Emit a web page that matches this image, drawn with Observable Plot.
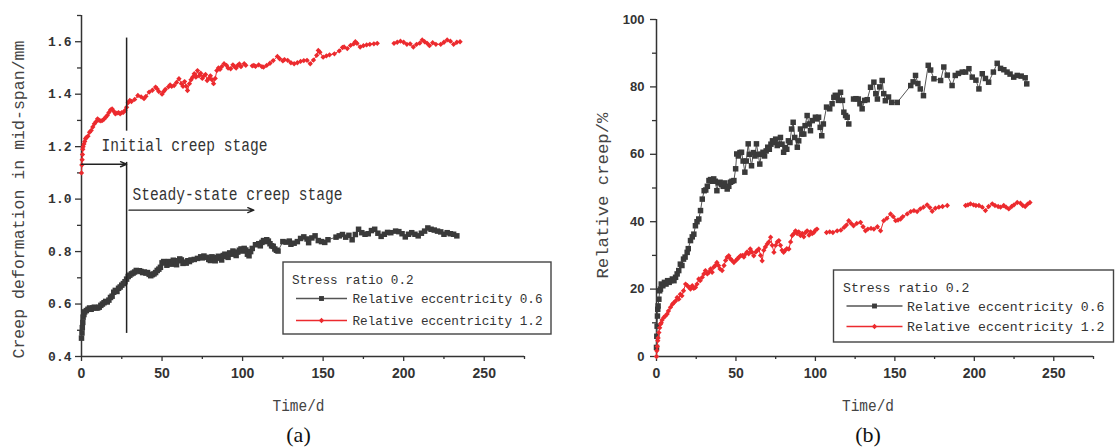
<!DOCTYPE html>
<html>
<head>
<meta charset="utf-8">
<script src="https://cdn.jsdelivr.net/npm/d3@7"></script>
<script src="https://cdn.jsdelivr.net/npm/@observablehq/plot@0.6"></script>
<style>
  html, body { margin: 0; padding: 0; background: #fff; }
  #page { position: relative; width: 1117px; height: 447px; overflow: hidden; background: #fff; }
  #page > svg { position: absolute; top: 0; }
</style>
</head>
<body>
<div id="page"></div>
<script>
// ---- Data: [time (d), value]; null marks a gap in the record ----

// (a) mid-span creep deformation (mm), relative eccentricity 0.6
const deform06 = [
  [0,0.47],[0.3,0.49],[0.5,0.51],[0.8,0.53],[1,0.55],[1.5,0.56],[2,0.57],[3,0.575],[4,0.58],[5,0.585],
  [6,0.58],[7,0.585],[8,0.588],[9,0.585],[10,0.585],[11,0.588],[12,0.595],[13,0.6],[14,0.605],[15,0.61],
  [16,0.608],[17,0.615],[18,0.625],[19,0.63],[20,0.645],[21,0.652],[22,0.648],[23,0.66],[24,0.665],[25,0.672],
  [26,0.678],[27,0.685],[28,0.695],[29,0.705],[30,0.71],[31,0.715],[32,0.718],[33,0.722],[34,0.728],[35,0.726],
  [36,0.727],[37,0.724],[38,0.72],[39,0.722],[40,0.718],[41,0.72],[42,0.713],[43,0.708],[44,0.712],[45,0.715],
  [46,0.72],[47,0.728],[48,0.733],[49,0.74],[50,0.757],[51,0.762],[52,0.758],[53,0.748],[54,0.762],[55,0.76],
  [56,0.752],[57,0.767],[58,0.76],[59,0.75],[60,0.765],[61,0.772],[62,0.768],[63,0.755],[64,0.76],[65,0.756],
  [66,0.765],[67,0.762],[68,0.768],[70,0.77],[72,0.774],[74,0.78],[75,0.776],[76,0.783],[78,0.778],[79,0.77],
  [80,0.766],[81,0.78],[82,0.772],[83,0.765],[84,0.777],[85,0.782],[86,0.775],[87,0.768],[88,0.785],[89,0.79],
  [90,0.782],[91,0.778],[92,0.795],[93,0.79],[94,0.802],[95,0.796],[96,0.785],[97,0.798],[98,0.805],[99,0.81],
  [100,0.802],[101,0.812],[102,0.806],[103,0.79],[104,0.784],[105,0.8],[106,0.812],[108,0.826],[110,0.83],[111,0.822],
  [112,0.835],[113,0.842],[114,0.838],[115,0.845],[116,0.84],[117,0.83],[118,0.822],[119,0.82],[120,0.81],[121,0.805],
  [122,0.802],[125,0.838],[127,0.836],[129,0.84],[130,0.828],[132,0.832],[134,0.838],[136,0.85],[138,0.856],[140,0.848],
  [141,0.834],[143,0.852],[145,0.86],[147,0.842],[149,0.838],[151,0.835],[153,0.845],[158,0.855],[160,0.86],[162,0.865],
  [164,0.855],[166,0.862],[168,0.845],[170,0.865],[172,0.885],[174,0.872],[176,0.866],[178,0.868],[180,0.88],[182,0.885],
  [184,0.87],[186,0.858],[188,0.866],[190,0.873],[192,0.872],[195,0.878],[197,0.876],[199,0.868],[201,0.856],[203,0.866],
  [205,0.872],[207,0.866],[209,0.86],[211,0.87],[213,0.878],[215,0.89],[217,0.885],[219,0.882],[221,0.878],[223,0.875],
  [225,0.866],[227,0.872],[229,0.868],[231,0.866],[233,0.86]
];

// (a) mid-span creep deformation (mm), relative eccentricity 1.2
const deform12 = [
  [0,1.10],[0.2,1.13],[0.4,1.15],[0.6,1.17],[0.8,1.19],[1,1.2],[1.5,1.21],[2,1.22],[2.5,1.23],[3,1.235],
  [4,1.24],[5,1.255],[6,1.262],[7,1.275],[8,1.287],[9,1.295],[10,1.306],[11,1.3],[12,1.298],[13,1.3],
  [14,1.305],[15,1.312],[16,1.319],[17,1.33],[18,1.34],[19,1.344],[20,1.335],[21,1.325],[22,1.328],[23,1.33],
  [24,1.325],[25,1.33],[26,1.331],[27,1.338],[28,1.35],[29,1.368],[30,1.376],[31,1.372],[33,1.38],[35,1.395],
  [37,1.39],[38.8,1.383],[40,1.392],[42,1.408],[44,1.415],[46,1.427],[47,1.42],[48,1.41],[50,1.40],[51,1.41],
  [52,1.418],[54,1.428],[55,1.435],[56,1.43],[57.5,1.433],[59,1.445],[60.5,1.459],[62,1.44],[63,1.43],[64,1.448],
  [65,1.43],[65.8,1.414],[67,1.44],[68,1.455],[69,1.465],[70,1.478],[71,1.465],[72,1.49],[73,1.47],[74,1.48],
  [75,1.46],[76,1.47],[77,1.475],[78,1.452],[79,1.46],[80,1.47],[81,1.455],[82,1.44],[83,1.46],[84,1.49],
  [85,1.5],[86,1.495],[87,1.505],[88.5,1.516],[90,1.51],[91,1.5],[92.6,1.497],[94,1.512],[95,1.505],[96,1.5],
  [97,1.51],[98,1.515],[99,1.505],[101,1.516],[102,1.51],[104,null],[106,1.508],[107,1.51],[108,1.506],[110,1.512],
  [112,1.505],[113,1.503],[115,1.51],[117,1.518],[119,1.528],[121.6,1.544],[123,1.535],[125,1.527],[126,1.532],[128,1.529],
  [130,1.52],[132,1.516],[134,1.52],[136,1.525],[138,1.528],[140,1.529],[142,1.516],[144,1.53],[146,1.548],[147,1.567],
  [148,1.56],[150,1.541],[152,1.546],[154,1.55],[157,1.554],[160,1.565],[162,1.578],[163,1.58],[165,1.574],[167,1.586],
  [169,1.592],[170,1.60],[171,1.594],[173,1.58],[175,1.585],[177,1.588],[179,1.59],[181.5,1.592],[183.6,1.594],[188,null],
  [194,1.594],[196,1.598],[198,1.602],[200,1.598],[202,1.59],[204,1.592],[206,1.58],[208,1.59],[210,1.595],[211.5,1.607],
  [213,1.6],[214.6,1.594],[216,1.585],[218,1.596],[220,1.59],[223,1.59],[225,1.598],[227,1.607],[229,1.602],[231,1.59],
  [233,1.598],[235,1.6]
];

// (b) relative creep (%), relative eccentricity 0.6
const relCreep06 = [
  [0,2.7],[0.2,6],[0.4,9],[0.6,12],[0.8,14],[1,15],[1.5,17],[2,19.5],[2.5,20],[3,21.5],
  [4,21],[5,22],[6,21.5],[7,22.5],[8,22],[9,22.5],[10,23],[11,22.5],[12,23.5],[13,24.5],
  [14,25.5],[15,27.4],[16,27],[17,28.9],[18,29.5],[19.3,30.9],[20,32],[21.4,34.4],[22.5,35.5],[23.5,36.3],
  [24.5,38.8],[25.5,40],[26.6,40.8],[27.7,43.3],[28.8,46.7],[30,49.2],[31,49.4],[32,50.5],[33,52.2],[34,52.5],
  [35,52],[36,52.7],[37,52],[38,49.2],[39,51.5],[40,51.7],[41,51],[42,50.5],[43,51.5],[44.5,49.7],
  [45.5,50.5],[46.6,51.7],[47.5,52],[48.7,52.2],[49.8,55.7],[50.5,60.1],[51.5,59.5],[52.5,60.5],[53.5,60.6],[54.5,58],
  [55.6,54.7],[56.5,58],[57.7,63.1],[58.5,60],[59.8,56.6],[61,60.5],[62,59.5],[62.9,63.1],[64,60],[65,57.1],
  [66,60],[67,60.6],[68,59.5],[69,61],[70,62.1],[71,61.5],[72,63],[73,64],[74,63.5],[75,64.5],
  [76,62.6],[77,63],[78,65],[79,63],[80,60.6],[81,62],[82,61.5],[83,64],[84,63.5],[85,67.5],
  [86,69.5],[87,65],[88.6,62.1],[89.5,64],[90.6,67.5],[91.5,66],[92.7,66],[93.5,68.5],[94.8,71.5],[96,69],
  [96.9,67],[98,70],[100,71],[101,70.5],[102,71],[103,68],[104,65.5],[105,69],[107,74],[109,73.5],
  [110.5,75],[111.6,76.9],[112.5,77.5],[113.7,77.4],[114.5,76],[115.8,78.4],[117,76],[117.9,72.5],[119,71.5],[120,71],
  [121,69],[122.5,null],[124,76.4],[125.5,76.5],[127,76.4],[128,75],[129.4,73.5],[131,76],[132.6,76.2],[134.7,79.9],
  [136.8,81.4],[138,78],[139,76.4],[140.5,80],[142,81.9],[143,78],[144,75.9],[146,77],[148,75.4],[151.5,75.4],
  [160,80.4],[161.5,81.5],[163,83.4],[164.5,81],[166,79.4],[168,77.4],[171,86.4],[172.5,85],[174.6,82.4],[178.8,81.9],
  [180.8,85.9],[183,83.5],[186,80.4],[188,83.4],[190,84],[192.4,84.4],[194.5,84.4],[196.6,85.4],[198.7,82.9],[201,82],
  [202.9,79.4],[205,83.9],[207,82.5],[209,81.4],[212,84.4],[214.4,87],[216.5,85.5],[218.6,85.1],[220.6,84.4],[222.5,83.8],
  [224.8,82.9],[227,83.4],[229.5,83.2],[232,82.7],[233,80.9]
];

// (b) relative creep (%), relative eccentricity 1.2
const relCreep12 = [
  [0,0],[0.2,1.7],[0.5,3],[0.8,4.7],[1,5.5],[1.5,7.1],[2,8.5],[2.5,9.6],[3,10],[3.5,10.8],
  [4.6,11.6],[5.5,12],[6.7,12.6],[7.5,13.5],[8.8,14.6],[10,15.5],[11,16],[12,16.5],[13,17.5],[14,17],
  [15,18.5],[16,18],[17,19.5],[18.3,21.5],[19.5,21],[20.5,20.5],[21.4,20],[22.5,21],[23.5,20.2],[24.5,20.5],
  [25.5,21.5],[26.6,23],[27.5,22.5],[28.8,23.5],[29.8,24.5],[30.8,25.5],[32,24.5],[33,25],[34,26],[35,25],
  [36,26.5],[37,27],[38,27.9],[39,27],[40,26],[41.3,25.5],[42.5,27],[43.5,28.5],[44.5,29.5],[45.5,29.9],
  [46.5,29],[47.5,28.5],[48.7,27.9],[50,28.5],[51,29],[52,29.5],[52.9,29.9],[54,30],[55,29.5],[56,30.4],
  [57,31],[58,30.5],[59,31.9],[60,31],[61.2,29.9],[62.5,31],[63.5,31.5],[64.4,31.9],[65.5,30],[66.5,28.4],
  [67.5,31.5],[68.5,32.5],[69.7,33.4],[70.7,34],[71.8,35.4],[72.8,33],[73.9,30.9],[75,33],[76,34],[77,34.4],
  [78,33],[79,31.5],[80,30.9],[81,31.5],[82,32],[83.3,31.9],[84.4,34],[85.4,35.9],[86.5,36.5],[87.5,37.3],
  [88.5,36.5],[89.5,37],[90.6,35.9],[91.7,36.5],[92.7,35.5],[93.8,36.8],[94.8,37.3],[96,36],[97,37],[98,36.5],
  [99,36.8],[100,37.5],[101,37.8],[104,null],[107,36.8],[109,37],[111,36.8],[113.7,37.3],[116,37.5],[118,38.3],
  [119.5,39],[121,40.3],[122.5,39.5],[124,38.8],[126,39.5],[128.4,39.8],[130,38.5],[131.5,37.3],[133,37.8],[135,38],
  [136.8,37.8],[139,38.5],[141,37.3],[143,40.3],[145,41],[147.3,42.3],[149,41.5],[150.5,40.3],[152,40.5],[153.6,40.8],
  [155,41.5],[157.8,42.3],[160,43],[162,43.3],[164,43],[166,43.8],[168,44.3],[170.3,45],[172,44.2],[173.5,43.1],
  [175.5,44],[177.7,44.3],[180,44.5],[183,44.8],[188,null],[194.5,44.8],[196,45],[197.6,45.3],[199.5,45],[201,44.8],
  [202.9,44.8],[205,44.3],[207,43.3],[209,44.5],[211.3,45.3],[213,44.8],[215,44.5],[216.5,44.3],[218.5,44.8],[220,44.3],
  [221.7,43.8],[223.5,44.5],[225,45],[227,45.7],[229,45.5],[230.5,44.8],[232,44.5],[233.5,45.2],[235,45.7]
];

// Axis ticks
const timeTicks = [0, 50, 100, 150, 200, 250];
const timeMinor = [25, 75, 125, 175, 225, 275];
const deformTicks = [0.4, 0.6, 0.8, 1.0, 1.2, 1.4, 1.6];
const deformMinor = [0.5, 0.7, 0.9, 1.1, 1.3, 1.5, 1.7];
const creepTicks = [0, 20, 40, 60, 80, 100];
const creepMinor = [10, 30, 50, 70, 90];

// Stage annotations on panel (a)
const stageBoundary = 28;                       // day separating the two stages
const boundarySpans = [[1.614, 1.259], [1.14, 0.488]];
const stageArrows = [
  {x1: 0, x2: 28, y: 1.133},
  {x1: 29.5, x2: 107, y: 0.958}
];
const stageLabels = [
  {x: 12.4, y: 1.204, text: "Initial creep stage"},
  {x: 31.6, y: 1.017, text: "Steady-state creep stage"}
];

// Legend entries
const legendTitle = "Stress ratio 0.2";
const seriesNames = ["Relative eccentricity 0.6", "Relative eccentricity 1.2"];

// ---- Styling ----
const GREY = "#3a3a3a", GREY_LINE = "#555", RED = "#ec2a2e";
const MONO = "'Liberation Mono', 'DejaVu Sans Mono', monospace";
const SANS = "'Liberation Sans', Arial, sans-serif";

// Condensed widths for the tall, narrow monospaced labels
const textWidths = new Map([
  ["Creep deformation in mid-span/mm", 318],
  ["Relative creep/%", 166],
  ["Time/d", 52],
  ["Initial creep stage", 166],
  ["Steady-state creep stage", 210]
]);
function condense(svg) {
  svg.querySelectorAll("text").forEach(t => {
    const w = textWidths.get(t.textContent);
    if (w) { t.setAttribute("textLength", w); t.setAttribute("lengthAdjust", "spacingAndGlyphs"); }
  });
  return svg;
}

function seriesMarks(rows, color, lineColor, symbol, r) {
  return [
    Plot.line(rows, {x: d => d[0], y: d => d[1], stroke: lineColor, strokeWidth: 1}),
    Plot.dot(rows, {x: d => d[0], y: d => d[1], symbol, r, fill: color, stroke: "none"})
  ];
}

function axes(yTicks, yMinor, yFormat, yFont, yTickPad, xLo, yLo) {
  return [
    Plot.ruleX([xLo], {stroke: "#333", strokeWidth: 1.5}),
    Plot.ruleY([yLo], {stroke: "#333", strokeWidth: 1.5}),
    Plot.axisY({ticks: yTicks, tickSize: 6, tickPadding: yTickPad, tickFormat: yFormat, label: null,
      fontFamily: yFont, fontWeight: "bold", fontSize: 13, strokeWidth: 1.3}),
    Plot.axisY({ticks: yMinor, tickSize: 4, tickFormat: () => "", label: null, strokeWidth: 1.3}),
    Plot.axisX({ticks: timeTicks, tickSize: 5, tickPadding: 7, tickFormat: d => String(d), label: null,
      fontFamily: SANS, fontWeight: "bold", fontSize: 14, strokeWidth: 1.3}),
    Plot.axisX({ticks: timeMinor, tickSize: 3, tickFormat: () => "", label: null, strokeWidth: 1.3})
  ];
}

function titleMarks(yLabel, ydx, ydy, xdx, tag) {
  return [
    Plot.text([yLabel], {text: d => d, frameAnchor: "left", rotate: -90, dx: ydx, dy: ydy,
      textAnchor: "middle", lineAnchor: "middle", fontFamily: MONO, fontSize: 17, fill: "#444"}),
    Plot.text(["Time/d"], {text: d => d, frameAnchor: "bottom", dx: xdx, dy: 49,
      textAnchor: "middle", lineAnchor: "middle", fontFamily: MONO, fontSize: 17, fill: "#444"}),
    Plot.text([tag], {text: d => d, frameAnchor: "bottom", dx: xdx, dy: 78,
      textAnchor: "middle", lineAnchor: "middle",
      fontFamily: "'Liberation Serif', 'Times New Roman', serif", fontSize: 22, fill: "#111"})
  ];
}

const page = document.getElementById("page");

// ---- Panel (a) ----
const plotA = Plot.plot({
  width: 558, height: 447,
  marginLeft: 81, marginRight: 34, marginTop: 15, marginBottom: 91,
  x: {domain: [0, 275]},
  y: {domain: [0.4, 1.7]},
  style: {fontFamily: SANS, fontSize: "13px", color: "#333", background: "transparent", overflow: "visible"},
  marks: [
    ...axes(deformTicks, deformMinor, d => d.toFixed(1), MONO, 4, 0, 0.4),
    ...seriesMarks(deform06, GREY, GREY_LINE, "square", 3.1),
    ...seriesMarks(deform12, RED, RED, "diamond2", 2.4),
    Plot.ruleX(boundarySpans, {x: stageBoundary, y1: d => d[0], y2: d => d[1], stroke: "#222", strokeWidth: 1.5}),
    Plot.arrow(stageArrows, {x1: "x1", x2: "x2", y1: "y", y2: "y", stroke: "#222", strokeWidth: 1.4,
      headLength: 7, headAngle: 45}),
    Plot.text(stageLabels, {x: "x", y: "y", text: "text", textAnchor: "start",
      fontFamily: MONO, fontSize: 18, fill: "#333"}),
    ...titleMarks("Creep deformation in mid-span/mm", -63, 13.5, -4.5, "(a)")
  ]
});
plotA.style.left = "0px";
page.appendChild(condense(plotA));

// ---- Panel (b) ----
const plotB = Plot.plot({
  width: 559, height: 447,
  marginLeft: 98, marginRight: 24, marginTop: 19, marginBottom: 91,
  x: {domain: [0, 275]},
  y: {domain: [0, 100]},
  style: {fontFamily: SANS, fontSize: "13px", color: "#333", background: "transparent", overflow: "visible"},
  marks: [
    ...axes(creepTicks, creepMinor, d => String(d), SANS, 6, 0, 0),
    ...seriesMarks(relCreep06, GREY, GREY_LINE, "square", 3.1),
    ...seriesMarks(relCreep12, RED, RED, "diamond2", 2.4),
    ...titleMarks("Relative creep/%", -54, 7.5, -7, "(b)")
  ]
});
plotB.style.left = "558px";
page.appendChild(condense(plotB));

// ---- Legends ----
const overlay = d3.select(page).append("svg")
  .attr("width", 1117).attr("height", 447)
  .style("left", "0px").style("pointer-events", "none");

function drawLegend(g, o) {
  g.append("rect").attr("x", o.x).attr("y", o.y).attr("width", o.w).attr("height", o.h)
    .attr("fill", "#fff").attr("stroke", "#444").attr("stroke-width", 1.4);
  g.append("text").attr("x", o.titleX).attr("y", o.titleY).attr("dy", "0.35em")
    .attr("font-family", MONO).attr("font-size", 13.5).attr("fill", "#333")
    .attr("textLength", legendTitle.length * o.cw).attr("lengthAdjust", "spacingAndGlyphs")
    .text(legendTitle);
  const styles = [
    {stroke: GREY_LINE, fill: GREY, symbol: d3.symbolSquare, size: 24},
    {stroke: RED, fill: RED, symbol: d3.symbolDiamond2, size: 18}
  ];
  seriesNames.forEach((name, i) => {
    const y = o.rows[i], s = styles[i];
    g.append("line").attr("x1", o.lineX[0]).attr("x2", o.lineX[1]).attr("y1", y).attr("y2", y)
      .attr("stroke", s.stroke).attr("stroke-width", 1.3);
    g.append("path").attr("d", d3.symbol(s.symbol, s.size)())
      .attr("transform", `translate(${(o.lineX[0] + o.lineX[1]) / 2},${y})`).attr("fill", s.fill);
    g.append("text").attr("x", o.textX).attr("y", y).attr("dy", "0.35em")
      .attr("font-family", MONO).attr("font-size", 13.5).attr("fill", "#333")
      .attr("textLength", name.length * o.cw).attr("lengthAdjust", "spacingAndGlyphs")
      .text(name);
  });
}

drawLegend(overlay.append("g"), {
  x: 283, y: 262, w: 268, h: 72, titleX: 292, titleY: 279, cw: 7.6,
  lineX: [296, 347], rows: [298.5, 320.5], textX: 352.5
});
drawLegend(overlay.append("g"), {
  x: 833.5, y: 270, w: 280, h: 72, titleX: 843, titleY: 287, cw: 7.9,
  lineX: [846.5, 902.5], rows: [306, 326.5], textX: 907
});
</script>
</body>
</html>
